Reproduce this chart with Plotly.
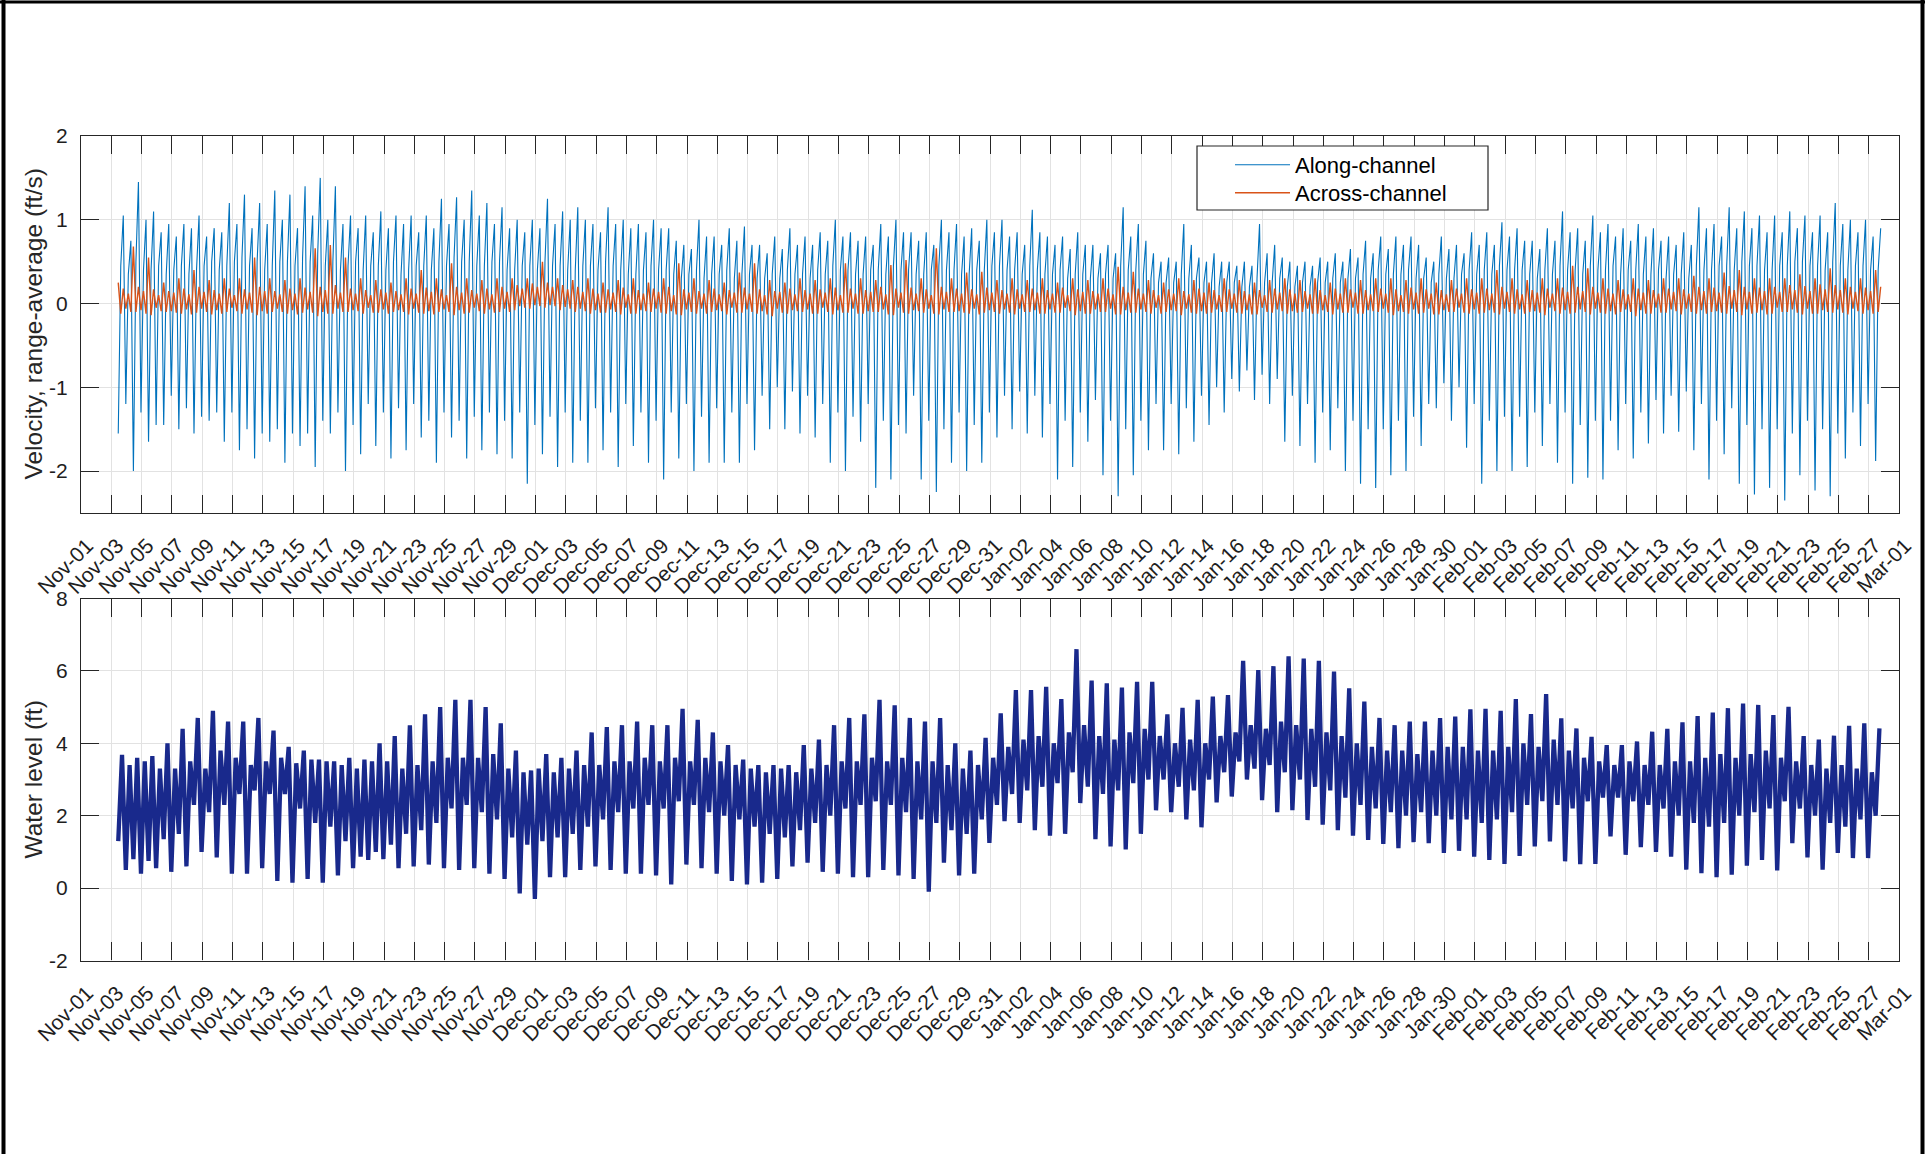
import pandas as pd
import plotly.graph_objects as go

FONT = "Liberation Sans, Arial, sans-serif"
INK = "#262626"
W, H = 1925, 1154

# ---------------- data (daily tidal extremes) ----------------
# days run Nov-03 .. Feb-27 (117 days)
first_time = "2021-11-03 11:00"
axis_start, axis_end = "2021-11-01", "2022-03-01"

# Water level (ft): higher high, lower low, lower high, higher low per day
wl_hh = [3.68, 3.6, 3.65, 4.0, 4.4, 4.7, 4.9, 4.6, 4.6, 4.7, 4.35, 3.9, 3.8, 3.55, 3.5, 3.6, 3.55, 4.0, 4.2, 4.5, 4.8, 5.0, 5.2, 5.2, 5.0, 4.55, 3.8, 3.25,
         3.7, 3.6, 3.8, 4.3, 4.45, 4.5, 4.6, 4.5, 4.5, 4.95, 4.65, 4.3, 3.95, 3.55, 3.4, 3.4, 3.4, 3.95, 4.1, 4.5, 4.7, 4.8, 5.2, 5.05, 4.7, 4.6, 4.7, 4.0, 3.8, 4.15, 4.83,
         5.47, 5.47, 5.56, 5.22, 6.6, 5.73, 5.66, 5.54, 5.7, 5.7, 4.8, 4.98, 5.2, 5.29, 5.33, 6.28, 6.02, 6.13, 6.4, 6.34, 6.28, 5.98, 5.52, 5.15, 4.7, 4.5, 4.6, 4.6, 4.7, 4.74, 4.94,
         4.95, 4.9, 5.22, 4.81, 5.36, 4.69, 4.41, 4.18, 3.95, 3.95, 4.05, 4.32, 4.4, 4.58, 4.75, 4.85, 4.97, 5.1, 5.06, 4.78, 5.01, 4.2, 4.1, 4.21, 4.48, 4.55, 4.41]
wl_ll = [0.5, 0.4, 0.55, 0.45, 0.6, 1.0, 0.85, 0.4, 0.4, 0.55, 0.2, 0.15, 0.25, 0.15, 0.35, 0.55, 0.78, 0.8, 0.55, 0.6, 0.65, 0.55, 0.5, 0.55, 0.4, 0.25, -0.15, -0.3,
         0.3, 0.3, 0.5, 0.6, 0.5, 0.4, 0.4, 0.35, 0.1, 0.65, 0.55, 0.4, 0.2, 0.1, 0.15, 0.25, 0.6, 0.7, 0.45, 0.4, 0.3, 0.3, 0.5, 0.35, 0.25, -0.1, 0.7, 0.35, 0.4, 1.25, 1.85,
         1.8, 1.6, 1.45, 1.5, 2.35, 1.35, 1.15, 1.07, 1.5, 2.15, 2.1, 1.9, 1.68, 2.37, 2.53, 3.0, 2.43, 2.1, 2.15, 1.88, 1.75, 1.6, 1.45, 1.33, 1.22, 1.1, 1.27, 1.24, 0.97, 1.03, 0.87,
         0.78, 0.67, 0.89, 1.15, 1.29, 0.74, 0.66, 0.67, 1.43, 0.92, 1.13, 1.0, 0.87, 0.51, 0.41, 0.3, 0.37, 0.62, 0.78, 0.49, 1.24, 0.85, 0.51, 0.97, 0.83, 0.83, 2.2]
wl_lh = [3.4, 3.5, 3.3, 3.3, 3.5, 3.3, 3.8, 3.6, 3.4, 3.5, 3.6, 3.45, 3.55, 3.5, 3.4, 3.3, 3.5, 3.5, 3.3, 3.4, 3.5, 3.6, 3.6, 3.6, 3.7, 3.3, 3.2, 3.3,
         3.2, 3.3, 3.4, 3.4, 3.5, 3.5, 3.6, 3.5, 3.6, 3.5, 3.6, 3.5, 3.4, 3.3, 3.2, 3.3, 3.2, 3.3, 3.4, 3.5, 3.5, 3.6, 3.5, 3.6, 3.5, 3.5, 3.4, 3.3, 3.4, 3.6, 3.9,
         4.1, 4.2, 4.0, 4.3, 4.5, 4.2, 4.1, 4.3, 4.4, 4.2, 4.0, 4.1, 4.0, 4.2, 4.3, 4.5, 4.4, 4.6, 4.5, 4.4, 4.3, 4.2, 4.0, 3.9, 3.8, 3.8, 3.7, 3.8, 3.9, 3.9, 3.8,
         3.8, 3.9, 4.0, 3.9, 4.1, 3.8, 3.6, 3.5, 3.4, 3.5, 3.4, 3.4, 3.5, 3.5, 3.6, 3.7, 3.6, 3.7, 3.8, 3.6, 3.5, 3.4, 3.3, 3.4, 3.3, 3.2, 3.0]
wl_hl = [1.3, 0.8, 0.75, 1.35, 1.5, 2.3, 2.1, 2.3, 2.6, 2.7, 2.6, 2.6, 2.2, 1.8, 1.7, 1.3, 0.87, 1.0, 1.2, 1.5, 1.6, 1.8, 2.2, 2.3, 2.1, 1.9, 1.4, 1.2,
         1.3, 1.4, 1.5, 1.7, 1.9, 2.1, 2.2, 2.3, 2.2, 2.4, 2.3, 2.1, 2.0, 1.9, 1.7, 1.5, 1.4, 1.6, 1.8, 2.0, 2.2, 2.3, 2.4, 2.3, 2.1, 1.9, 1.8, 1.6, 1.5, 1.9, 2.3,
         2.6, 2.7, 2.8, 2.9, 3.2, 2.8, 2.6, 2.7, 2.9, 3.0, 3.0, 2.8, 2.7, 3.0, 3.2, 3.5, 3.3, 3.4, 3.2, 3.0, 2.8, 2.7, 2.5, 2.3, 2.2, 2.1, 2.0, 2.1, 2.0, 1.9, 1.9,
         1.8, 1.9, 2.1, 2.3, 2.4, 2.3, 2.2, 2.4, 2.5, 2.5, 2.4, 2.3, 2.2, 2.0, 1.8, 1.7, 1.8, 2.0, 2.1, 2.2, 2.4, 2.2, 2.0, 1.8, 1.7, 1.9, 2.0]

# Along-channel velocity (ft/s): strong ebb, flood trough, flood peak, weak ebb, flood trough, flood peak per day
vel_eb1 = [-1.55, -2.0, -1.65, -1.45, -1.5, -1.55, -1.4, -1.65, -1.75, -1.85, -1.65, -1.9, -1.7, -1.95, -1.55, -2.0, -1.8, -1.7, -1.85, -1.75, -1.6, -1.9, -1.6, -1.85, -1.75, -1.8, -1.85, -2.15,
           -1.8, -1.95, -1.9, -1.9, -1.75, -1.95, -1.7, -1.9, -2.1, -1.85, -2.0, -1.9, -1.9, -1.9, -1.75, -1.5, -1.5, -1.55, -1.6, -1.9, -2.0, -1.65, -2.2, -2.1, -1.55, -2.1, -2.25, -1.9, -2.0, -1.9, -1.6,
           -1.5, -1.55, -1.6, -2.1, -1.95, -1.65, -2.05, -2.3, -2.05, -1.75, -1.75, -1.8, -1.65, -1.45, -1.3, -1.05, -1.15, -1.2, -1.65, -1.7, -1.9, -1.75, -2.0, -2.15, -2.2, -2.05, -2.0, -1.7, -1.25, -1.4, -1.72,
           -2.15, -2.0, -2.0, -1.95, -1.7, -1.9, -2.15, -2.08, -2.1, -1.75, -1.85, -1.67, -1.55, -1.53, -1.75, -2.1, -1.8, -2.15, -2.28, -2.2, -2.35, -2.05, -2.23, -2.3, -1.85, -1.7, -1.88]
vel_fa = [0.45, 0.5, 0.4, 0.35, 0.45, 0.4, 0.5, 0.45, 0.55, 0.5, 0.45, 0.5, 0.55, 0.6, 0.5, 0.45, 0.4, 0.45, 0.5, 0.4, 0.45, 0.5, 0.55, 0.5, 0.45, 0.5, 0.4, 0.45,
          0.5, 0.45, 0.4, 0.45, 0.5, 0.4, 0.35, 0.45, 0.4, 0.3, 0.4, 0.35, 0.4, 0.35, 0.3, 0.35, 0.4, 0.35, 0.4, 0.45, 0.4, 0.35, 0.4, 0.45, 0.4, 0.35, 0.45, 0.4, 0.35, 0.4, 0.45,
          0.4, 0.45, 0.35, 0.4, 0.35, 0.3, 0.35, 0.45, 0.4, 0.3, 0.25, 0.35, 0.3, 0.25, 0.25, 0.2, 0.3, 0.25, 0.2, 0.25, 0.25, 0.3, 0.3, 0.35, 0.4, 0.35, 0.4, 0.3, 0.35, 0.3, 0.4,
          0.4, 0.45, 0.4, 0.35, 0.4, 0.45, 0.4, 0.45, 0.4, 0.35, 0.4, 0.35, 0.3, 0.35, 0.45, 0.4, 0.45, 0.5, 0.45, 0.4, 0.45, 0.5, 0.45, 0.5, 0.4, 0.45, 0.4]
vel_fl1 = [1.05, 1.45, 1.1, 0.95, 0.95, 1.05, 0.9, 1.2, 1.3, 1.2, 1.35, 1.3, 1.4, 1.5, 1.4, 1.05, 1.05, 1.1, 1.05, 1.05, 1.05, 1.25, 1.27, 1.35, 1.2, 1.15, 1.0, 1.0,
           1.25, 1.1, 1.15, 0.95, 1.15, 1.0, 0.95, 1.0, 0.9, 0.7, 1.0, 0.8, 0.9, 0.92, 0.7, 0.8, 0.9, 0.8, 0.85, 1.0, 0.85, 0.8, 0.95, 1.0, 0.85, 0.85, 1.0, 0.95, 0.9, 1.0, 1.0,
           0.85, 1.12, 0.8, 0.8, 0.85, 0.7, 0.7, 1.15, 0.95, 0.6, 0.55, 0.95, 0.55, 0.6, 0.5, 0.5, 0.95, 0.7, 0.5, 0.5, 0.55, 0.6, 0.65, 0.75, 0.8, 0.8, 0.8, 0.55, 0.8, 0.7, 0.85,
           0.85, 0.97, 0.9, 0.75, 0.9, 1.1, 0.9, 1.05, 0.95, 0.9, 0.95, 0.9, 0.8, 0.85, 1.15, 0.95, 1.15, 1.1, 1.05, 1.05, 1.1, 1.05, 1.05, 1.2, 1.0, 1.0, 0.9]
vel_eb2 = [-1.2, -1.3, -1.45, -1.1, -1.25, -1.35, -1.3, -1.3, -1.5, -1.55, -1.5, -1.55, -1.55, -1.4, -1.3, -1.45, -1.2, -1.3, -1.25, -1.2, -1.4, -1.3, -1.4, -1.35, -1.3, -1.4, -1.3, -1.45,
           -1.35, -1.3, -1.4, -1.25, -1.3, -1.2, -1.3, -1.4, -1.3, -1.2, -1.35, -1.25, -1.3, -1.2, -1.1, -1.0, -1.05, -1.1, -1.2, -1.3, -1.35, -1.2, -1.4, -1.45, -1.1, -1.4, -1.5, -1.3, -1.45, -1.3, -1.1,
           -1.05, -1.1, -1.2, -1.4, -1.3, -1.15, -1.4, -1.5, -1.4, -1.2, -1.2, -1.25, -1.1, -1.0, -0.9, -0.8, -0.85, -0.9, -1.1, -1.2, -1.3, -1.25, -1.4, -1.5, -1.5, -1.4, -1.35, -1.2, -0.95, -1.0, -1.2,
           -1.4, -1.35, -1.35, -1.3, -1.2, -1.3, -1.45, -1.4, -1.4, -1.2, -1.3, -1.15, -1.1, -1.05, -1.2, -1.4, -1.25, -1.45, -1.5, -1.5, -1.55, -1.4, -1.5, -1.55, -1.3, -1.2, -1.3]
vel_fb = [0.35, 0.4, 0.45, 0.4, 0.35, 0.45, 0.4, 0.5, 0.45, 0.4, 0.5, 0.45, 0.5, 0.45, 0.4, 0.5, 0.45, 0.4, 0.35, 0.45, 0.4, 0.45, 0.5, 0.45, 0.5, 0.4, 0.45, 0.4,
          0.45, 0.4, 0.45, 0.4, 0.45, 0.35, 0.4, 0.4, 0.35, 0.35, 0.3, 0.35, 0.3, 0.35, 0.3, 0.3, 0.35, 0.3, 0.35, 0.4, 0.35, 0.4, 0.35, 0.4, 0.35, 0.4, 0.4, 0.35, 0.4, 0.45, 0.4,
          0.35, 0.4, 0.35, 0.3, 0.35, 0.3, 0.3, 0.4, 0.35, 0.25, 0.25, 0.3, 0.25, 0.2, 0.25, 0.2, 0.25, 0.3, 0.2, 0.2, 0.25, 0.25, 0.3, 0.3, 0.35, 0.35, 0.3, 0.25, 0.3, 0.35, 0.35,
          0.35, 0.4, 0.4, 0.3, 0.35, 0.4, 0.35, 0.4, 0.45, 0.4, 0.35, 0.4, 0.35, 0.3, 0.4, 0.45, 0.4, 0.45, 0.4, 0.45, 0.5, 0.45, 0.4, 0.45, 0.45, 0.4, 0.35]
vel_fl2 = [0.75, 1.0, 0.85, 0.8, 0.9, 0.8, 0.85, 0.95, 0.9, 0.95, 1.0, 0.9, 1.05, 1.0, 0.95, 0.9, 0.85, 0.9, 0.95, 0.85, 0.9, 0.95, 1.0, 1.05, 0.95, 0.9, 0.85, 0.9,
           0.95, 1.0, 1.0, 0.85, 0.95, 0.9, 0.85, 0.9, 0.75, 0.65, 0.8, 0.7, 0.75, 0.7, 0.6, 0.65, 0.7, 0.7, 0.75, 0.8, 0.75, 0.7, 0.8, 0.85, 0.75, 0.7, 0.85, 0.8, 0.75, 0.85, 0.8,
           0.7, 0.85, 0.7, 0.65, 0.7, 0.6, 0.6, 0.8, 0.75, 0.5, 0.5, 0.7, 0.5, 0.5, 0.45, 0.45, 0.6, 0.55, 0.45, 0.45, 0.5, 0.5, 0.55, 0.6, 0.65, 0.7, 0.7, 0.5, 0.65, 0.6, 0.7,
           0.7, 0.8, 0.75, 0.65, 0.75, 0.85, 0.75, 0.85, 0.8, 0.75, 0.8, 0.75, 0.7, 0.7, 0.9, 0.8, 0.9, 0.9, 0.85, 0.85, 0.9, 0.85, 0.85, 0.95, 0.85, 0.8, 0.75]

# Across-channel velocity (ft/s): three highs and three lows per day
acr_p1 = [0.25, 0.68, 0.55, 0.25, 0.3, 0.4, 0.28, 0.3, 0.3, 0.55, 0.3, 0.28, 0.3, 0.66, 0.7, 0.55, 0.3, 0.28, 0.25, 0.3, 0.4, 0.3, 0.48, 0.3, 0.28, 0.3, 0.3, 0.3,
          0.5, 0.3, 0.28, 0.3, 0.25, 0.28, 0.3, 0.25, 0.3, 0.48, 0.3, 0.28, 0.25, 0.37, 0.48, 0.28, 0.25, 0.3, 0.28, 0.3, 0.48, 0.3, 0.28, 0.46, 0.52, 0.3, 0.66, 0.3, 0.37, 0.38, 0.28,
          0.3, 0.28, 0.3, 0.25, 0.3, 0.28, 0.3, 0.44, 0.38, 0.28, 0.25, 0.3, 0.28, 0.25, 0.3, 0.28, 0.25, 0.28, 0.3, 0.28, 0.3, 0.25, 0.3, 0.28, 0.3, 0.3, 0.28, 0.3, 0.25, 0.28, 0.3,
          0.3, 0.4, 0.3, 0.28, 0.3, 0.3, 0.45, 0.42, 0.3, 0.28, 0.3, 0.28, 0.3, 0.3, 0.33, 0.3, 0.37, 0.4, 0.3, 0.3, 0.3, 0.35, 0.3, 0.42, 0.3, 0.3, 0.4]
acr_n1 = [-0.12, -0.1, -0.14, -0.1, -0.12, -0.11, -0.13, -0.1, -0.12, -0.14, -0.1, -0.12, -0.11, -0.15, -0.12, -0.1, -0.12, -0.11, -0.1, -0.13, -0.12, -0.1, -0.14, -0.11, -0.12, -0.1, -0.08, -0.06,
          -0.05, -0.08, -0.1, -0.12, -0.11, -0.13, -0.12, -0.1, -0.12, -0.14, -0.12, -0.1, -0.13, -0.11, -0.12, -0.15, -0.12, -0.1, -0.12, -0.13, -0.11, -0.12, -0.1, -0.14, -0.12, -0.11, -0.13, -0.1, -0.12, -0.11, -0.12,
          -0.13, -0.1, -0.12, -0.11, -0.14, -0.12, -0.1, -0.13, -0.11, -0.12, -0.1, -0.14, -0.12, -0.11, -0.1, -0.12, -0.13, -0.11, -0.12, -0.1, -0.12, -0.13, -0.11, -0.12, -0.1, -0.14, -0.12, -0.11, -0.13, -0.1, -0.12,
          -0.11, -0.13, -0.12, -0.1, -0.14, -0.12, -0.11, -0.13, -0.12, -0.1, -0.15, -0.12, -0.11, -0.13, -0.12, -0.1, -0.12, -0.14, -0.11, -0.12, -0.1, -0.13, -0.12, -0.11, -0.13, -0.12, -0.1]
acr_p2 = [0.18, 0.2, 0.17, 0.15, 0.18, 0.2, 0.16, 0.18, 0.17, 0.2, 0.15, 0.18, 0.19, 0.2, 0.22, 0.18, 0.16, 0.17, 0.15, 0.18, 0.19, 0.17, 0.2, 0.16, 0.18, 0.2, 0.22, 0.24,
          0.25, 0.22, 0.2, 0.18, 0.17, 0.19, 0.16, 0.18, 0.2, 0.17, 0.15, 0.18, 0.16, 0.19, 0.17, 0.15, 0.18, 0.16, 0.17, 0.19, 0.18, 0.16, 0.2, 0.18, 0.19, 0.17, 0.2, 0.18, 0.17, 0.19, 0.16,
          0.17, 0.18, 0.16, 0.19, 0.17, 0.15, 0.18, 0.2, 0.18, 0.16, 0.17, 0.15, 0.18, 0.16, 0.17, 0.15, 0.16, 0.18, 0.17, 0.15, 0.16, 0.18, 0.17, 0.16, 0.18, 0.17, 0.19, 0.17, 0.16, 0.18, 0.17,
          0.18, 0.2, 0.17, 0.16, 0.18, 0.19, 0.2, 0.2, 0.18, 0.17, 0.18, 0.16, 0.18, 0.17, 0.2, 0.19, 0.21, 0.2, 0.19, 0.2, 0.22, 0.21, 0.23, 0.22, 0.2, 0.19, 0.2]
acr_n2 = [-0.06, -0.08, -0.05, -0.09, -0.07, -0.06, -0.08, -0.05, -0.07, -0.09, -0.06, -0.08, -0.07, -0.1, -0.06, -0.08, -0.05, -0.07, -0.08, -0.06, -0.09, -0.07, -0.08, -0.05, -0.07, -0.06, -0.03, -0.02,
          -0.02, -0.04, -0.06, -0.08, -0.07, -0.05, -0.08, -0.06, -0.09, -0.07, -0.06, -0.08, -0.05, -0.07, -0.09, -0.06, -0.08, -0.07, -0.05, -0.08, -0.06, -0.09, -0.07, -0.05, -0.08, -0.06, -0.07, -0.09, -0.06, -0.08, -0.07,
          -0.06, -0.08, -0.07, -0.05, -0.09, -0.07, -0.06, -0.08, -0.07, -0.05, -0.08, -0.06, -0.09, -0.07, -0.06, -0.08, -0.05, -0.07, -0.09, -0.06, -0.08, -0.07, -0.05, -0.08, -0.06, -0.09, -0.07, -0.06, -0.08, -0.05, -0.07,
          -0.08, -0.06, -0.07, -0.09, -0.05, -0.08, -0.07, -0.06, -0.09, -0.07, -0.08, -0.05, -0.07, -0.06, -0.08, -0.09, -0.06, -0.07, -0.08, -0.05, -0.07, -0.06, -0.08, -0.07, -0.06, -0.08, -0.05]
acr_p3 = [0.12, 0.15, 0.1, 0.13, 0.11, 0.14, 0.12, 0.1, 0.13, 0.15, 0.11, 0.12, 0.14, 0.16, 0.13, 0.12, 0.1, 0.13, 0.11, 0.12, 0.14, 0.1, 0.13, 0.12, 0.11, 0.14, 0.18, 0.2,
          0.2, 0.17, 0.14, 0.12, 0.13, 0.11, 0.12, 0.14, 0.1, 0.13, 0.12, 0.11, 0.13, 0.12, 0.1, 0.14, 0.11, 0.12, 0.13, 0.1, 0.12, 0.14, 0.11, 0.13, 0.12, 0.1, 0.14, 0.12, 0.11, 0.13, 0.12,
          0.11, 0.13, 0.12, 0.1, 0.14, 0.12, 0.11, 0.13, 0.12, 0.1, 0.12, 0.11, 0.13, 0.1, 0.12, 0.11, 0.1, 0.13, 0.12, 0.11, 0.1, 0.12, 0.13, 0.11, 0.12, 0.1, 0.13, 0.12, 0.11, 0.12, 0.13,
          0.12, 0.14, 0.11, 0.13, 0.12, 0.14, 0.15, 0.13, 0.12, 0.11, 0.13, 0.12, 0.14, 0.12, 0.15, 0.13, 0.16, 0.14, 0.15, 0.14, 0.16, 0.15, 0.17, 0.16, 0.14, 0.15, 0.13]
acr_n3 = [-0.1, -0.12, -0.09, -0.11, -0.13, -0.1, -0.12, -0.09, -0.11, -0.12, -0.1, -0.13, -0.11, -0.12, -0.1, -0.09, -0.11, -0.12, -0.1, -0.11, -0.13, -0.1, -0.12, -0.09, -0.11, -0.1, -0.05, -0.03,
          -0.03, -0.06, -0.09, -0.11, -0.1, -0.12, -0.09, -0.11, -0.13, -0.1, -0.12, -0.09, -0.11, -0.1, -0.13, -0.11, -0.09, -0.12, -0.1, -0.11, -0.12, -0.1, -0.13, -0.11, -0.09, -0.12, -0.1, -0.11, -0.13, -0.1, -0.11,
          -0.1, -0.12, -0.11, -0.09, -0.12, -0.1, -0.13, -0.11, -0.1, -0.12, -0.09, -0.11, -0.12, -0.1, -0.11, -0.13, -0.1, -0.09, -0.11, -0.12, -0.1, -0.11, -0.12, -0.09, -0.11, -0.1, -0.12, -0.13, -0.1, -0.11, -0.12,
          -0.11, -0.1, -0.12, -0.11, -0.09, -0.12, -0.1, -0.11, -0.13, -0.1, -0.12, -0.11, -0.09, -0.1, -0.12, -0.11, -0.1, -0.12, -0.13, -0.1, -0.11, -0.12, -0.1, -0.11, -0.09, -0.12, -0.1]

legend_names = ["Along-channel", "Across-channel"]
y1_title = "Velocity, range-average (ft/s)"
y2_title = "Water level (ft)"
y1_ticks = [-2, -1, 0, 1, 2]
y2_ticks = [-2, 0, 2, 4, 6, 8]

# ---------------- build series ----------------
def interleave(trim, *cols):
    seq = []
    for vals in zip(*cols):
        seq.extend(vals)
    return seq[:-trim]          # record ends on the afternoon of Feb-27

wl = interleave(2, wl_hl, wl_hh, wl_ll, wl_lh)                                  # 6-hourly
along = interleave(3, vel_eb1, vel_fa, vel_fl1, vel_eb2, vel_fb, vel_fl2)       # 4-hourly
across = interleave(3, acr_p1, acr_n1, acr_p2, acr_n2, acr_p3, acr_n3)          # 4-hourly
t_wl = pd.date_range(first_time, periods=len(wl), freq="6h")
t_v = pd.date_range(first_time, periods=len(along), freq="4h")

# ---------------- figure ----------------
fig = go.Figure()
fig.add_trace(go.Scatter(x=t_v, y=along, mode="lines", name=legend_names[0], legend="legend",
                         line=dict(color="#0072BD", width=1.1), xaxis="x", yaxis="y"))
fig.add_trace(go.Scatter(x=t_v, y=across, mode="lines", name=legend_names[1], legend="legend2",
                         line=dict(color="#D95319", width=1.4), xaxis="x", yaxis="y"))
fig.add_trace(go.Scatter(x=t_wl, y=wl, mode="lines", showlegend=False,
                         line=dict(color="#19298C", width=4.3), xaxis="x2", yaxis="y2"))


def px_x(p):
    return p / W


def px_y(p):
    return 1 - p / H


L, R = 81, 1899
top1, bot1 = 136, 513
top2, bot2 = 598.5, 960.5

xcommon = dict(type="date", range=[axis_start, axis_end], tick0=axis_start, dtick=2 * 86400000,
               tickformat="%b-%d", tickangle=-45, ticks="inside", ticklen=18, tickwidth=1.3,
               tickcolor=INK, showline=True, linecolor=INK, linewidth=1.3, mirror="ticks",
               showgrid=True, gridcolor="#e2e2e2", gridwidth=1, zeroline=False, automargin=False,
               tickfont=dict(family=FONT, size=21, color="#1e1e1e"),
               ticklabelstandoff=11, ticklabelshift=6,
               domain=[px_x(L), px_x(R)])
ycommon = dict(ticks="inside", ticklen=18, tickwidth=1.3, tickcolor=INK, showline=True,
               linecolor=INK, linewidth=1.3, mirror="ticks", showgrid=True, gridcolor="#e2e2e2",
               gridwidth=1, zeroline=False, automargin=False,
               tickfont=dict(family=FONT, size=21, color="#1e1e1e"), ticklabelstandoff=8)

legend_common = dict(xanchor="left", yanchor="top", bgcolor="rgba(0,0,0,0)", borderwidth=0,
                     itemwidth=55, font=dict(family=FONT, size=22, color="black"))

fig.update_layout(
    template="none",
    width=W, height=H,
    margin=dict(l=0, r=0, t=0, b=0, autoexpand=False),
    paper_bgcolor="white", plot_bgcolor="white",
    font=dict(family=FONT, color=INK),
    hovermode=False,
    xaxis=dict(xcommon, anchor="y"),
    xaxis2=dict(xcommon, anchor="y2"),
    yaxis=dict(ycommon, anchor="x", range=[-2.5, 2], tickvals=y1_ticks,
               ticktext=[str(v) for v in y1_ticks], domain=[px_y(bot1), px_y(top1)]),
    yaxis2=dict(ycommon, anchor="x2", range=[-2, 8], tickvals=y2_ticks,
                ticktext=[str(v) for v in y2_ticks], domain=[px_y(bot2), px_y(top2)]),
    legend=dict(legend_common, x=px_x(1230), y=px_y(144)),
    legend2=dict(legend_common, x=px_x(1230), y=px_y(172)),
    showlegend=True,
)

# legend frame
fig.add_shape(type="rect", xref="paper", yref="paper", layer="above",
              x0=px_x(1197), x1=px_x(1488), y0=px_y(210), y1=px_y(146),
              fillcolor="white", line=dict(color=INK, width=1.2))
# outer figure frame (left, top, right)
for (x0, y0, x1, y1, w) in [(3.5, 0, 3.5, H, 4), (0, 2, W, 2, 3), (W - 2.5, 0, W - 2.5, H, 4)]:
    fig.add_shape(type="line", xref="paper", yref="paper", x0=px_x(x0), x1=px_x(x1),
                  y0=px_y(y0), y1=px_y(y1), line=dict(color="black", width=w))

# axis titles
for title, ymid in [(y1_title, (top1 + bot1) / 2), (y2_title, (top2 + bot2) / 2)]:
    fig.add_annotation(text=title, xref="paper", yref="paper", x=px_x(33), y=px_y(ymid),
                       textangle=-90, showarrow=False, font=dict(family=FONT, size=24.5, color=INK),
                       xanchor="center", yanchor="middle")

fig.write_html("out.html", config={"displayModeBar": False},
               post_script="document.body.style.margin='0';document.body.style.overflow='hidden';")
